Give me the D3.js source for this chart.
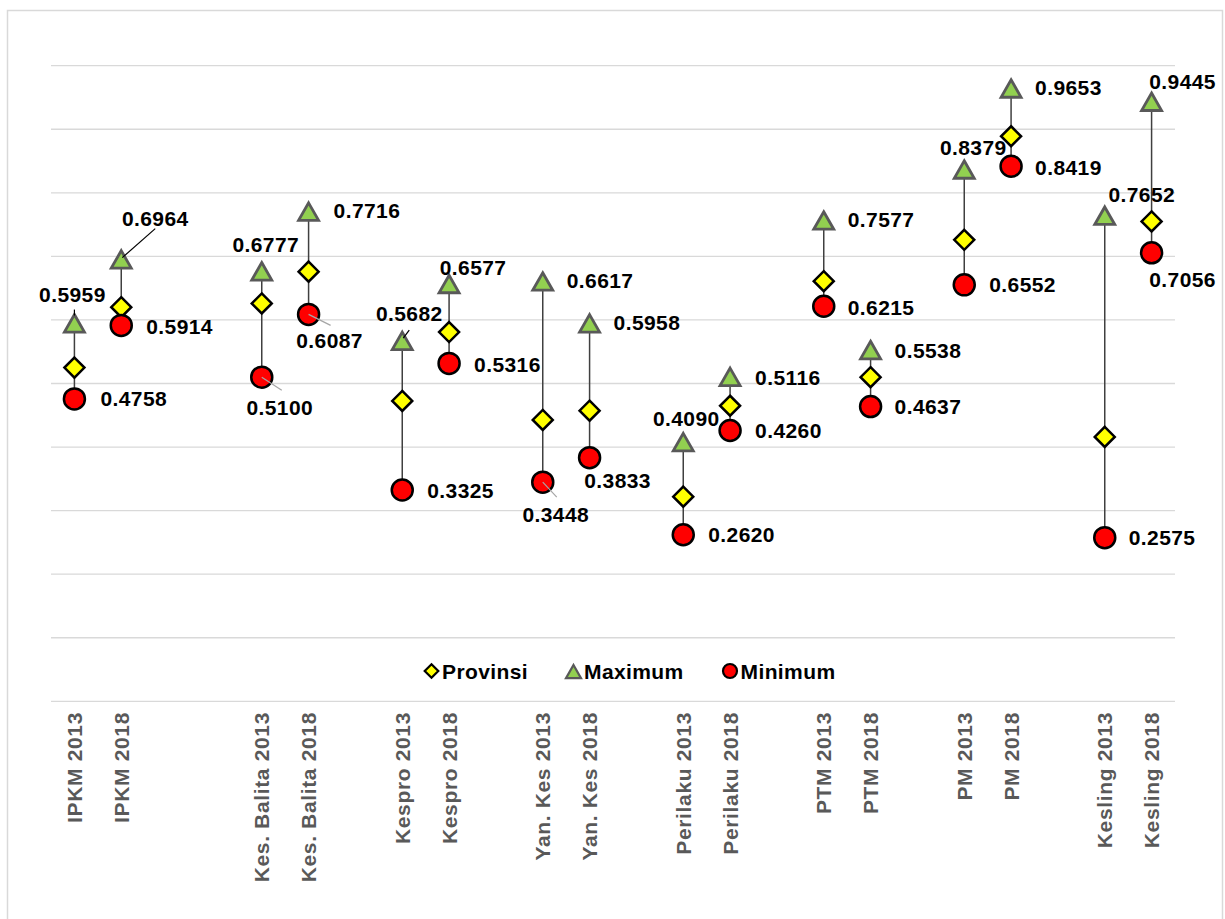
<!DOCTYPE html>
<html>
<head>
<meta charset="utf-8">
<script src="https://cdn.jsdelivr.net/npm/d3@7"></script>
<style>
html,body{margin:0;padding:0;background:#fff;}
svg{display:block;font-family:"Liberation Sans",Arial,sans-serif;}
</style>
</head>
<body>
<svg id="chart" width="1225" height="919"></svg>
<script>
// ---- data ----
const categories = ["IPKM 2013","IPKM 2018","","","Kes. Balita 2013","Kes. Balita 2018","",
  "Kespro 2013","Kespro 2018","","Yan. Kes 2013","Yan. Kes 2018","",
  "Perilaku 2013","Perilaku 2018","","PTM 2013","PTM 2018","",
  "PM 2013","PM 2018","","Kesling 2013","Kesling 2018"];
const provinsi = [0.525,0.620,null,null,0.626,0.676,null,0.4725,0.581,null,0.4426,0.4572,null,
  0.322,0.465,null,0.661,0.510,null,0.726,0.889,null,0.416,0.755];
const maximum = [0.5959,0.6964,null,null,0.6777,0.7716,null,0.5682,0.6577,null,0.6617,0.5958,null,
  0.4090,0.5116,null,0.7577,0.5538,null,0.8379,0.9653,null,0.7652,0.9445];
const minimum = [0.4758,0.5914,null,null,0.5100,0.6087,null,0.3325,0.5316,null,0.3448,0.3833,null,
  0.2620,0.4260,null,0.6215,0.4637,null,0.6552,0.8419,null,0.2575,0.7056];
const yTicks = [0,0.1,0.2,0.3,0.4,0.5,0.6,0.7,0.8,0.9,1.0];
const seriesNames = ["Provinsi","Maximum","Minimum"];

// ---- label placement (layout only): [dx, dy, anchor] relative to marker ----
const maxLabelPos = [[-2,-28,"middle"],[34,-40,"middle"],null,null,[4,-26,"middle"],[25,0,"start"],null,
  [7,-27,"middle"],[24,-16,"middle"],null,[24,0,"start"],[24,0,"start"],null,
  [3,-23,"middle"],[25,1,"start"],null,[24,0,"start"],[24,1,"start"],null,
  [9,-21,"middle"],[24,0,"start"],null,[37,-20,"middle"],[31,-20,"middle"]];
const minLabelPos = [[26,0,"start"],[25,1,"start"],null,null,[18,30,"middle"],[21,26,"middle"],null,
  [25,0,"start"],[25,1,"start"],null,[13,32,"middle"],[28,23,"middle"],null,
  [25,0,"start"],[25,0,"start"],null,[24,1,"start"],[24,0,"start"],null,
  [25,0,"start"],[24,1,"start"],null,[24,0,"start"],[31,27,"middle"]];
// leader lines: [series, index, x1, y1, x2, y2, colour] offsets from marker
const leaders = [["max",0,0,-7,0,-13,"#000"],["max",1,1,-1,34,-30,"#000"],["max",7,1,-2,7,-10,"#000"],
  ["min",4,0,0,20,13,"#a6a6a6"],["min",5,0,0,22,11,"#a6a6a6"],["min",10,0,0,14,15,"#a6a6a6"]];

// ---- chart ----
const svg = d3.select("#chart");
svg.append("rect").attr("x",7.5).attr("y",10.5).attr("width",1215).attr("height",930)
  .attr("fill","#fff").attr("stroke","#d9d9d9").attr("stroke-width",1.5);

const x = d3.scaleBand().domain(d3.range(categories.length)).range([51,1175]);
const y = d3.scaleLinear().domain([0,1]).range([701.3,65.7]);
const cx = i => x(i) + x.bandwidth()/2;

// gridlines
svg.append("g").selectAll("line").data(yTicks).join("line")
  .attr("x1",51).attr("x2",1175).attr("y1",d=>y(d)).attr("y2",d=>y(d))
  .attr("stroke","#d9d9d9").attr("stroke-width",1.3);

// category labels
svg.append("g").selectAll("text").data(categories.map((c,i)=>({c,i})).filter(d=>d.c!==""))
  .join("text")
  .attr("transform",d=>`translate(${cx(d.i)},712) rotate(-90)`)
  .attr("text-anchor","end").attr("dy","0.36em")
  .attr("font-size",21).attr("font-weight","bold").attr("fill","#595959")
  .style("letter-spacing","0.65px")
  .text(d=>d.c);

const idx = d3.range(categories.length).filter(i=>maximum[i]!==null);

// hi-lo lines
svg.append("g").selectAll("line").data(idx).join("line")
  .attr("x1",cx).attr("x2",cx).attr("y1",i=>y(maximum[i])).attr("y2",i=>y(minimum[i]))
  .attr("stroke","#404040").attr("stroke-width",1.5);

const triPath = s => `M0,${-8*s}L${10*s},${9.5*s}L${-10*s},${9.5*s}Z`;
const diaPath = s => `M0,${-10*s}L${10*s},0L0,${10*s}L${-10*s},0Z`;

// provinsi diamonds
svg.append("g").selectAll("path").data(idx.filter(i=>provinsi[i]!==null)).join("path")
  .attr("transform",i=>`translate(${cx(i)},${y(provinsi[i])})`)
  .attr("d",diaPath(1)).attr("fill","#ffff00").attr("stroke","#000").attr("stroke-width",2.5);
// max triangles
svg.append("g").selectAll("path").data(idx).join("path")
  .attr("transform",i=>`translate(${cx(i)},${y(maximum[i])})`)
  .attr("d",triPath(1)).attr("fill","#92d050").attr("stroke","#595959").attr("stroke-width",2.8)
  .attr("stroke-linejoin","miter");
// min circles
svg.append("g").selectAll("circle").data(idx).join("circle")
  .attr("cx",cx).attr("cy",i=>y(minimum[i])).attr("r",10.5)
  .attr("fill","#ff0000").attr("stroke","#000").attr("stroke-width",2.5);

// leader lines
svg.append("g").selectAll("line").data(leaders).join("line")
  .attr("x1",d=>cx(d[1])+d[2]).attr("x2",d=>cx(d[1])+d[4])
  .attr("y1",d=>y(d[0]==="max"?maximum[d[1]]:minimum[d[1]])+d[3])
  .attr("y2",d=>y(d[0]==="max"?maximum[d[1]]:minimum[d[1]])+d[5])
  .attr("stroke",d=>d[6]).attr("stroke-width",1.2);

// data labels
function labels(vals,pos){
  svg.append("g").selectAll("text").data(idx).join("text")
    .attr("x",i=>cx(i)+pos[i][0]).attr("y",i=>y(vals[i])+pos[i][1])
    .attr("dy","0.36em").attr("text-anchor",i=>pos[i][2])
    .attr("font-size",21).attr("font-weight","bold").attr("fill","#000")
    .style("letter-spacing","0.4px")
    .text(i=>vals[i].toFixed(4));
}
labels(maximum,maxLabelPos);
labels(minimum,minLabelPos);

// legend
const legX = [431.5,573.5,730];
const lg = svg.append("g").selectAll("g").data(seriesNames).join("g")
  .attr("transform",(d,k)=>`translate(${legX[k]},671)`);
lg.filter((d,k)=>k===0).append("path").attr("d",diaPath(0.68))
  .attr("fill","#ffff00").attr("stroke","#000").attr("stroke-width",2.2);
lg.filter((d,k)=>k===1).append("path").attr("d",triPath(0.75))
  .attr("fill","#92d050").attr("stroke","#595959").attr("stroke-width",2.2);
lg.filter((d,k)=>k===2).append("circle").attr("r",7)
  .attr("fill","#ff0000").attr("stroke","#000").attr("stroke-width",2.2);
lg.append("text").attr("x",10.5).attr("dy","0.36em")
  .attr("font-size",21).attr("font-weight","bold").attr("fill","#000")
  .style("letter-spacing","0.4px").text(d=>d);
</script>
</body>
</html>
